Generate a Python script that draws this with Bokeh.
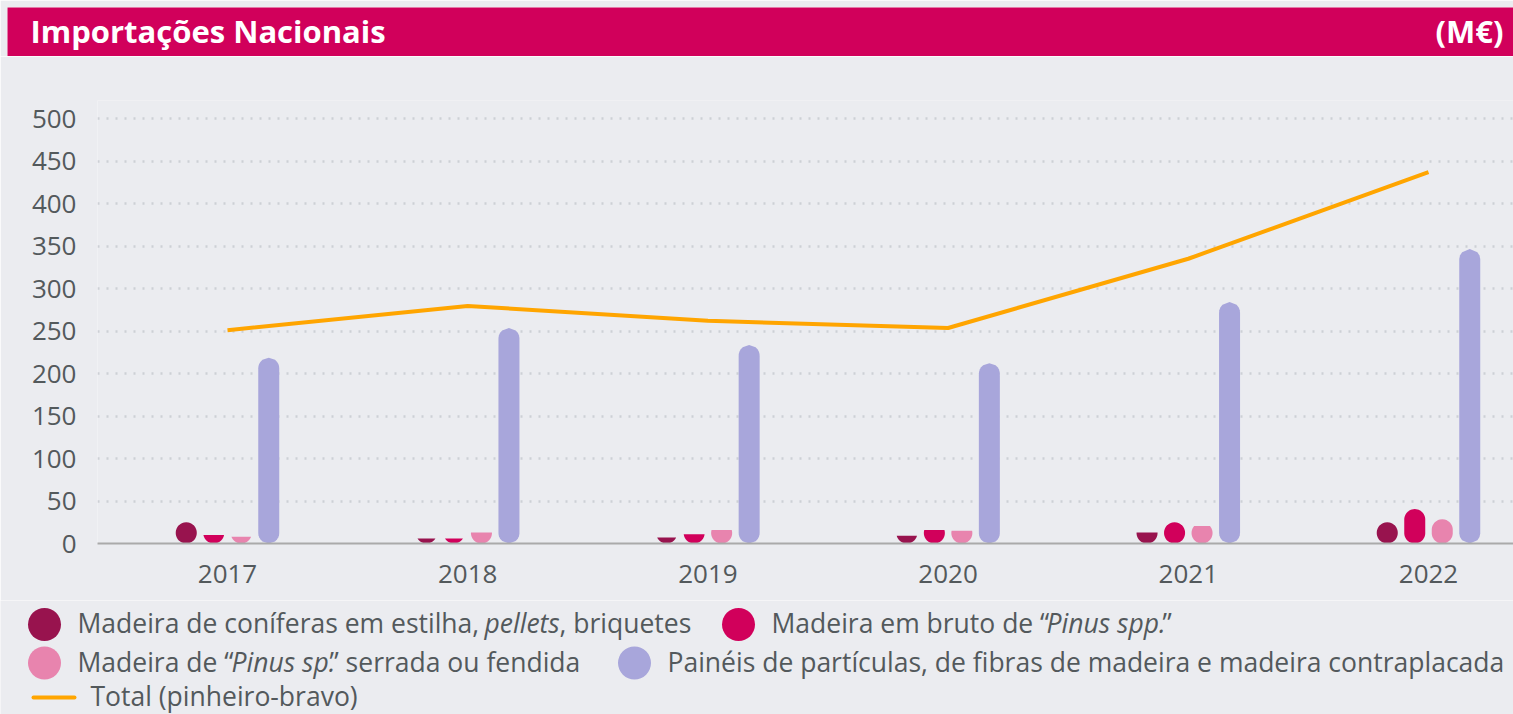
import numpy as np
from bokeh.plotting import figure
from bokeh.layouts import column
from bokeh.models import Range1d, FixedTicker, ColumnDataSource
from bokeh.core.properties import value
from bokeh.embed import file_html
from bokeh.resources import INLINE

# ---------------- data ----------------
years = ["2017", "2018", "2019", "2020", "2021", "2022"]
coniferas_estilha = [25, 6, 7, 9, 13, 25]
bruto_pinus = [10, 6, 11, 16, 25, 40.5]
serrada_pinus = [8, 13, 16, 15, 20.5, 28.5]
paineis = [218.5, 253.5, 233.5, 212, 284, 346.5]
total_pinheiro = [251, 279.5, 262, 253.5, 335, 437]
y_ticks = [0, 50, 100, 150, 200, 250, 300, 350, 400, 450, 500]

series = [coniferas_estilha, bruto_pinus, serrada_pinus, paineis]
colors = ["#98134E", "#D1005B", "#E884AE", "#A8A6DB"]
line_color = "#FFA500"

# ---------------- styling ----------------
W = 1513
BG = "#EBECF0"
BAR_BG = "#D1005B"
FONT = "Open Sans"
TXT = "#53595C"
SVG_SHIFT = 0.41   # svg text baseline correction (in em)

# ---------------- title bar ----------------
TH = 56
TFS = 31
t = figure(width=W, height=TH, x_range=Range1d(7, W), y_range=Range1d(TH, 7),
           x_axis_location=None, y_axis_location=None,
           min_border_left=7, min_border_top=7, min_border_right=0, min_border_bottom=0,
           frame_align=False, output_backend="svg", toolbar_location=None)
t.grid.visible = False
t.outline_line_color = None
t.background_fill_color = BAR_BG
t.border_fill_color = BG
ty = 43.3 - SVG_SHIFT * TFS
t.text(x=[30], y=[ty], text=["Importações Nacionais"], text_font=value(FONT),
       text_font_style="bold", text_font_size=f"{TFS}px", text_color="white",
       text_baseline="alphabetic", text_align="left")
t.text(x=[1503], y=[ty], text=["(M€)"], text_font=value(FONT),
       text_font_style="bold", text_font_size=f"{TFS}px", text_color="white",
       text_baseline="alphabetic", text_align="right")

# ---------------- chart ----------------
LEFT, TOP, BOTTOM = 97, 44, 57
FRAME_H = 443
CH = TOP + FRAME_H + BOTTOM
FRAME_W = W - LEFT
PX_PER_YEAR = 240.2
PX_PER_UNIT = 0.85
X0 = -(227 - LEFT) / PX_PER_YEAR
X1 = X0 + FRAME_W / PX_PER_YEAR
Y1 = FRAME_H / PX_PER_UNIT

p = figure(width=W, height=CH, x_range=Range1d(X0, X1), y_range=Range1d(0, Y1),
           min_border_left=LEFT, min_border_right=0, min_border_top=TOP,
           min_border_bottom=BOTTOM, frame_align=False,
           output_backend="svg", toolbar_location=None)
p.background_fill_color = BG
p.border_fill_color = BG
p.outline_line_color = None

SX = FRAME_W / (X1 - X0)
SY = FRAME_H / Y1
R = 10.5          # bar half width in px
GAP = 27.5        # distance between bar centres in px


def pill(cx, v):
    h = v * SY
    H = max(h, 2 * R)
    ys = np.linspace(0, h, 90)
    w = []
    for y in ys:
        if y < R:
            w.append(np.sqrt(max(R * R - (R - y) ** 2, 0)))
        elif y > H - R:
            w.append(np.sqrt(max(R * R - (y - (H - R)) ** 2, 0)))
        else:
            w.append(R)
    w = np.array(w)
    xs = np.concatenate([-w, w[::-1]]) / SX + cx
    yy = np.concatenate([ys, ys[::-1]]) / SY
    return list(xs), list(yy)


for k, (vals, col) in enumerate(zip(series, colors)):
    off = (k - 1.5) * GAP / SX
    xs, ys = [], []
    for i, v in enumerate(vals):
        a, b = pill(i + off, v)
        xs.append(a)
        ys.append(b)
    p.patches(xs=xs, ys=ys, fill_color=col, line_color=None)

p.line(x=list(range(len(years))), y=total_pinheiro, line_color=line_color,
       line_width=4, line_join="round")

p.xaxis.ticker = FixedTicker(ticks=list(range(len(years))))
p.xaxis.major_label_overrides = {i: y for i, y in enumerate(years)}
p.xaxis.axis_line_color = "#AAAAAA"
p.xaxis.axis_line_width = 2
p.xaxis.major_tick_line_color = None
p.xaxis.minor_tick_line_color = None
p.xaxis.major_label_standoff = 15
p.yaxis.ticker = FixedTicker(ticks=y_ticks)
p.yaxis.axis_line_color = None
p.yaxis.major_tick_line_color = None
p.yaxis.minor_tick_line_color = None
p.yaxis.major_label_standoff = 15
for ax in (p.xaxis, p.yaxis):
    ax.major_label_text_font = FONT
    ax.major_label_text_font_size = "26px"
    ax.major_label_text_color = TXT
p.xgrid.grid_line_color = None
p.ygrid.grid_line_color = "#CDD0D5"
p.ygrid.grid_line_width = 2.5
p.ygrid.grid_line_dash = "2 7"

# ---------------- legend ----------------
LT = TH + CH
LH = 714 - LT
lg = figure(width=W, height=LH, x_range=Range1d(0, W), y_range=Range1d(714, LT),
            x_axis_location=None, y_axis_location=None, min_border=0,
            frame_align=False, output_backend="svg", toolbar_location=None)
lg.grid.visible = False
lg.outline_line_color = None
lg.background_fill_color = BG
lg.border_fill_color = BG

LFS = 26.5
r1, r2, r3 = 624, 662.5, 697
lg.scatter(x=[44, 738, 44, 634], y=[r1, r1, r2, r2], size=33,
           fill_color=colors, line_color=None)
lg.line(x=[33, 74], y=[r3, r3], line_color=line_color, line_width=4, line_cap="round")

segs = [
    (77, r1, "Madeira de coníferas em estilha, ", "normal"),
    (484, r1, "pellets", "italic"),
    (559, r1, ", briquetes", "normal"),
    (771, r1, "Madeira em bruto de “", "normal"),
    (1046, r1, "Pinus spp.", "italic"),
    (1162, r1, "”", "normal"),
    (77, r2, "Madeira de “", "normal"),
    (231, r2, "Pinus sp.", "italic"),
    (329, r2, "” serrada ou fendida", "normal"),
    (667, r2, "Painéis de partículas, de fibras de madeira e madeira contraplacada", "normal"),
    (90, r3, "Total (pinheiro-bravo)", "normal"),
]
for style in ("normal", "italic"):
    src = ColumnDataSource(dict(
        x=[s[0] for s in segs if s[3] == style],
        y=[s[1] + 9.5 - SVG_SHIFT * LFS for s in segs if s[3] == style],
        text=[s[2] for s in segs if s[3] == style]))
    lg.text(x="x", y="y", text="text", source=src, text_font=value(FONT),
            text_font_size=f"{LFS}px", text_color=TXT, text_font_style=style,
            text_baseline="alphabetic", text_align="left")

layout = column(t, p, lg, spacing=0)
html = file_html(layout, INLINE)
open("out.html", "w").write(html)
